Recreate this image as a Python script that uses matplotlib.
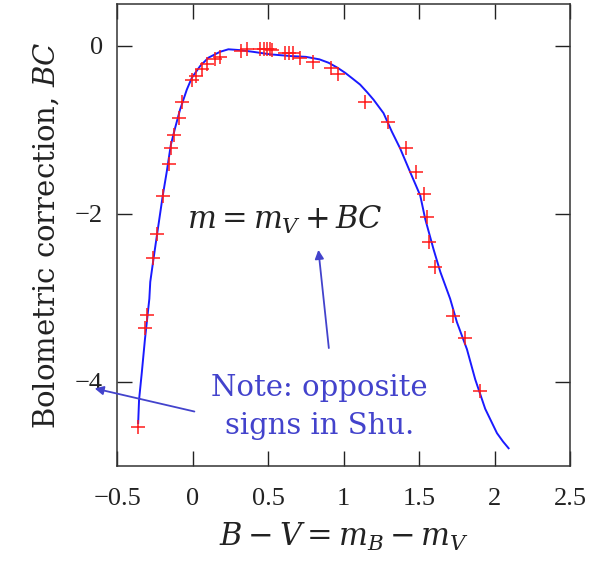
import numpy as np
import matplotlib.pyplot as plt

plt.rcParams['font.family'] = ['DejaVu Serif']
plt.rcParams['mathtext.fontset'] = 'dejavuserif'

# measured points (B-V, BC)
bv_pts = [-0.361, -0.315, -0.30, -0.259, -0.237, -0.197, -0.153, -0.144, -0.122,
          -0.087, -0.067, -0.005, 0.023, 0.061, 0.098, 0.149, 0.182, 0.319, 0.363,
          0.447, 0.47, 0.49, 0.51, 0.525, 0.613, 0.641, 0.668, 0.712, 0.80, 0.917,
          0.966, 1.142, 1.297, 1.414, 1.48, 1.529, 1.555, 1.562, 1.606, 1.723,
          1.805, 1.904]
bc_pts = [-4.54, -3.36, -3.20, -2.53, -2.24, -1.79, -1.41, -1.22, -1.06,
          -0.86, -0.67, -0.41, -0.36, -0.27, -0.22, -0.16, -0.13, -0.06, -0.04,
          -0.04, -0.04, -0.04, -0.04, -0.05, -0.08, -0.08, -0.09, -0.14, -0.19, -0.26,
          -0.34, -0.67, -0.91, -1.22, -1.50, -1.76, -2.04, -2.34, -2.63, -3.21,
          -3.48, -4.11]

# fitted curve
bv_fit = [-0.36, -0.354, -0.336, -0.315, -0.286, -0.28, -0.259, -0.233, -0.197,
          -0.171, -0.144, -0.116, -0.083, -0.038, -0.005, 0.05, 0.105, 0.182,
          0.237, 0.315, 0.40, 0.513, 0.646, 0.75, 0.84, 0.90, 0.96, 1.01, 1.06,
          1.109, 1.155, 1.198, 1.264, 1.319, 1.374, 1.44, 1.507, 1.54, 1.595,
          1.64, 1.705, 1.75, 1.816, 1.871, 1.937, 1.98, 2.015, 2.055, 2.092]
bc_fit = [-4.49, -4.21, -3.89, -3.49, -3.01, -2.81, -2.54, -2.22, -1.78,
          -1.50, -1.18, -0.98, -0.76, -0.52, -0.38, -0.24, -0.14, -0.07,
          -0.04, -0.05, -0.07, -0.10, -0.12, -0.13, -0.16, -0.20, -0.26, -0.32, -0.39,
          -0.46, -0.55, -0.64, -0.80, -1.02, -1.22, -1.50, -1.78, -2.06, -2.42,
          -2.69, -3.01, -3.29, -3.61, -3.97, -4.32, -4.48, -4.61, -4.71, -4.79]

xticks = [-0.5, 0, 0.5, 1, 1.5, 2, 2.5]
xticklabels = ['\u22120.5', '0', '0.5', '1', '1.5', '2', '2.5']
yticks = [0, -2, -4]
yticklabels = ['0', '\u22122', '\u22124']

note_col = '#4343cc'

fig = plt.figure(figsize=(5.94, 5.62), dpi=100)
ax = fig.add_axes([0.197, 0.171, 0.763, 0.822])

ax.plot(bv_fit, bc_fit, color='#1a1aff', lw=1.4)
ax.plot(bv_pts, bc_pts, '+', color='#ff1a1a', ms=10, mew=1.1)

ax.set_xlim(-0.5, 2.5)
ax.set_ylim(-5, 0.5)
ax.set_xticks(xticks)
ax.set_xticklabels(xticklabels, family='Liberation Serif')
ax.set_yticks(yticks)
ax.set_yticklabels(yticklabels, family='Liberation Serif')
ax.tick_params(direction='in', length=11, width=1, top=True, right=True,
               labelsize=19, colors='#222222')
ax.tick_params(axis='x', pad=16)
ax.tick_params(axis='y', pad=10)
for s in ax.spines.values():
    s.set_linewidth(1.1)
    s.set_color('#333333')

ax.set_xlabel(r'$B - V = m_B - m_V$', fontsize=22, color='#222222', labelpad=8)
ax.set_ylabel(r'Bolometric correction, $BC$', fontsize=21, color='#222222', labelpad=10)

ax.text(0.61, -2.07, r'$m = m_V + BC$', fontsize=22, color='#222222',
        ha='center', va='center')
ax.text(0.84, -4.3, 'Note: opposite\nsigns in Shu.', fontsize=21, color=note_col,
        ha='center', va='center', linespacing=1.45)

ax.annotate('', xy=(0.831, -2.395), xytext=(0.904, -3.63),
            arrowprops=dict(arrowstyle='-|>', color=note_col, lw=1.3, mutation_scale=13))
ax.annotate('', xy=(-0.666, -4.07), xytext=(0.03, -4.36), annotation_clip=False,
            arrowprops=dict(arrowstyle='-|>', color=note_col, lw=1.3, mutation_scale=13))

fig.savefig('out.png', dpi=100)
